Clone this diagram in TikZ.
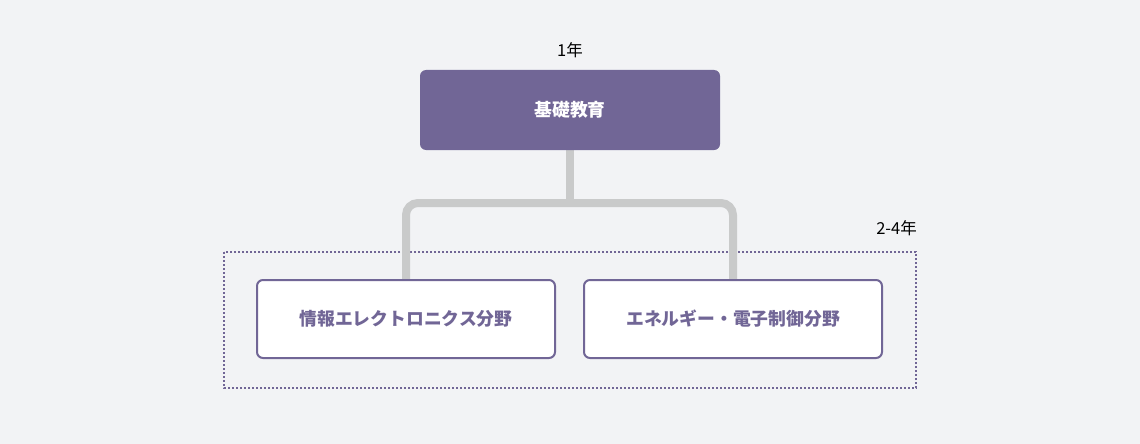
\documentclass[tikz,border=0pt]{standalone}
\usepackage{fontspec}
\setmainfont{Noto Sans CJK JP}
\usetikzlibrary{backgrounds}
\definecolor{bgcol}{HTML}{F2F3F5}
\definecolor{purp}{HTML}{716696}
\definecolor{linkgray}{HTML}{C9CACA}

\tikzset{
  basebox/.style={fill=purp, text=white, rounded corners=6pt,
    minimum width=300pt, minimum height=80pt, inner sep=0pt,
    font=\bfseries\fontsize{17.8}{20}\selectfont},
  fieldbox/.style={draw=purp, line width=2pt, fill=white, text=purp,
    rounded corners=6pt, minimum width=298pt, minimum height=78pt, inner sep=0pt,
    font=\bfseries\fontsize{17.8}{20}\selectfont},
  yearlabel/.style={text=black, inner sep=0pt, font=\fontsize{16.5}{20}\selectfont},
  link/.style={draw=linkgray, line width=8pt, rounded corners=12pt},
  groupframe/.style={draw=purp, line width=1.8pt, dash pattern=on 1.8pt off 2.2pt}
}

\begin{document}
\begin{tikzpicture}[x=1pt,y=-1pt]
    \useasboundingbox (0,0) rectangle (1140,444);
    % boxes
    \node[basebox] (base) at (570,110) {基礎教育};
    \node[yearlabel] (first) at (570,50) {1年};
    \node[fieldbox] (info) at (406,319) {情報エレクトロニクス分野};
    \node[fieldbox] (elec) at (733,319) {エネルギー・電子制御分野};
    \node[yearlabel, anchor=east] (upper) at (917,228) {2-4年};
    \coordinate (fork) at (570,203);
    \begin{scope}[on background layer]
        \fill[bgcol] (0,0) rectangle (1140,444);
        \draw[groupframe] (224,252) rectangle (916,388);
        % connectors
        \draw[link] (base.south) -- (fork);
        \draw[link] (info.north) |- (fork) -| (elec.north);
    \end{scope}
\end{tikzpicture}
\end{document}
